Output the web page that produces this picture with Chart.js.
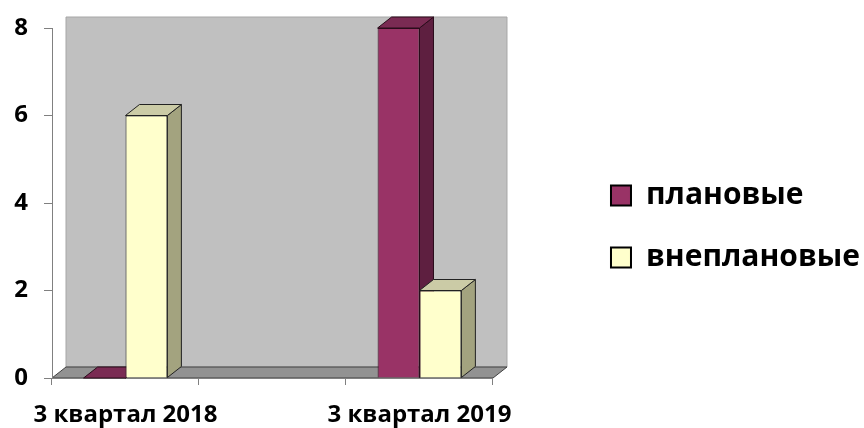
<!DOCTYPE html>
<html>
<head>
<meta charset="utf-8">
<script src="https://cdn.jsdelivr.net/npm/chart.js@4.4.0/dist/chart.umd.min.js"></script>
<style>
  body { margin: 0; background: #fff; }
  #wrap { width: 864px; height: 428px; }
</style>
</head>
<body>
<div id="wrap"><canvas id="myChart" width="864" height="428"></canvas></div>
<script>
// data (middle slot is an empty category)
const categories = ["3 квартал 2018", "", "3 квартал 2019"];
const planned = [0, null, 8];
const unplanned = [6, null, 2];
const seriesNames = ["плановые", "внеплановые"];
const yTicks = [0, 2, 4, 6, 8];

// 3d look, depth offset in px
const DX = 14, DY = -11;

const faceColors = [
  { side: "#5e1f40", top: "#7a2b53" },
  { side: "#a3a37f", top: "#cbcba6" }
];

function poly(ctx, pts, fill, stroke) {
  ctx.beginPath();
  ctx.moveTo(pts[0][0], pts[0][1]);
  for (let i = 1; i < pts.length; i++) ctx.lineTo(pts[i][0], pts[i][1]);
  ctx.closePath();
  ctx.fillStyle = fill;
  ctx.fill();
  if (stroke) {
    ctx.strokeStyle = stroke;
    ctx.lineWidth = 1;
    ctx.stroke();
  }
}

const box3d = {
  id: "box3d",
  beforeDraw(chart) {
    const ctx = chart.ctx;
    const a = chart.chartArea;
    ctx.save();
    // back wall
    poly(ctx, [[a.left + DX, a.top + DY], [a.right + DX, a.top + DY], [a.right + DX, a.bottom + DY], [a.left + DX, a.bottom + DY]], "#c0c0c0", "#a6a6a6");
    // floor
    poly(ctx, [[a.left, a.bottom], [a.right, a.bottom], [a.right + DX, a.bottom + DY], [a.left + DX, a.bottom + DY]], "#929292", "#404040");
    ctx.restore();
  },
  beforeDatasetsDraw(chart) {
    const ctx = chart.ctx;
    ctx.save();
    // go category by category, left to right
    for (let c = 0; c < categories.length; c++) {
      chart.data.datasets.forEach((ds, d) => {
        if (ds.data[c] === null) return;
        const meta = chart.getDatasetMeta(d);
        const el = meta.data[c];
        if (!el) return;
        const p = el.getProps(["x", "y", "base", "width"], true);
        const l = p.x - p.width / 2, r = p.x + p.width / 2;
        const stroke = d === 0 ? "#2a0c1b" : "#222";
        poly(ctx, [[r, p.y], [r + DX, p.y + DY], [r + DX, p.base + DY], [r, p.base]], faceColors[d].side, stroke);
        poly(ctx, [[l, p.y], [r, p.y], [r + DX, p.y + DY], [l + DX, p.y + DY]], faceColors[d].top, stroke);
      });
    }
    ctx.restore();
  }
};

const ctx = document.getElementById('myChart').getContext('2d');
const myChart = new Chart(ctx, {
  type: 'bar',
  data: {
    labels: categories,
    datasets: [{
      label: seriesNames[0],
      data: planned,
      backgroundColor: '#993366',
      borderColor: '#2a0c1b',
      borderWidth: 1
    }, {
      label: seriesNames[1],
      data: unplanned,
      backgroundColor: '#ffffcc',
      borderColor: '#222',
      borderWidth: 1
    }]
  },
  options: {
    responsive: false,
    animation: false,
    categoryPercentage: 0.57,
    barPercentage: 1.0,
    layout: { padding: { top: 25, right: -6, bottom: 0, left: 0 } },
    scales: {
      x: {
        grid: {
          display: true,
          drawOnChartArea: false,
          tickLength: 7,
          color: '#808080'
        },
        border: { color: '#808080' },
        ticks: {
          color: '#000',
          padding: 16,
          autoSkip: false,
          maxRotation: 0,
          font: { family: 'Open Sans', size: 24, weight: 'bold' }
        },
        afterFit: s => { s.height = 50; }
      },
      y: {
        min: 0,
        max: 8,
        afterBuildTicks: s => { s.ticks = yTicks.map(v => ({ value: v })); },
        grid: {
          display: true,
          drawOnChartArea: false,
          tickLength: 8,
          color: '#808080'
        },
        border: { color: '#808080' },
        ticks: {
          color: '#000',
          padding: 16,
          font: { family: 'Open Sans', size: 24, weight: 'bold', lineHeight: 1.0 }
        },
        afterFit: s => { s.width = 52; }
      },
      // empty spacer between plot and legend
      gap: {
        position: 'right',
        display: true,
        grid: { display: false },
        border: { display: false },
        ticks: { display: false },
        afterFit: s => { s.width = 86; }
      }
    },
    plugins: {
      legend: {
        position: 'right',
        maxWidth: 400,
        labels: {
          boxWidth: 20,
          boxHeight: 20,
          padding: 32,
          color: '#000',
          font: { family: 'Open Sans', size: 30, weight: 'bold' },
          generateLabels: chart => Chart.defaults.plugins.legend.labels.generateLabels(chart).map(it => {
            it.lineWidth = 2;
            it.strokeStyle = '#000';
            return it;
          })
        }
      },
      tooltip: { enabled: false }
    }
  },
  plugins: [box3d]
});
</script>
</body>
</html>
